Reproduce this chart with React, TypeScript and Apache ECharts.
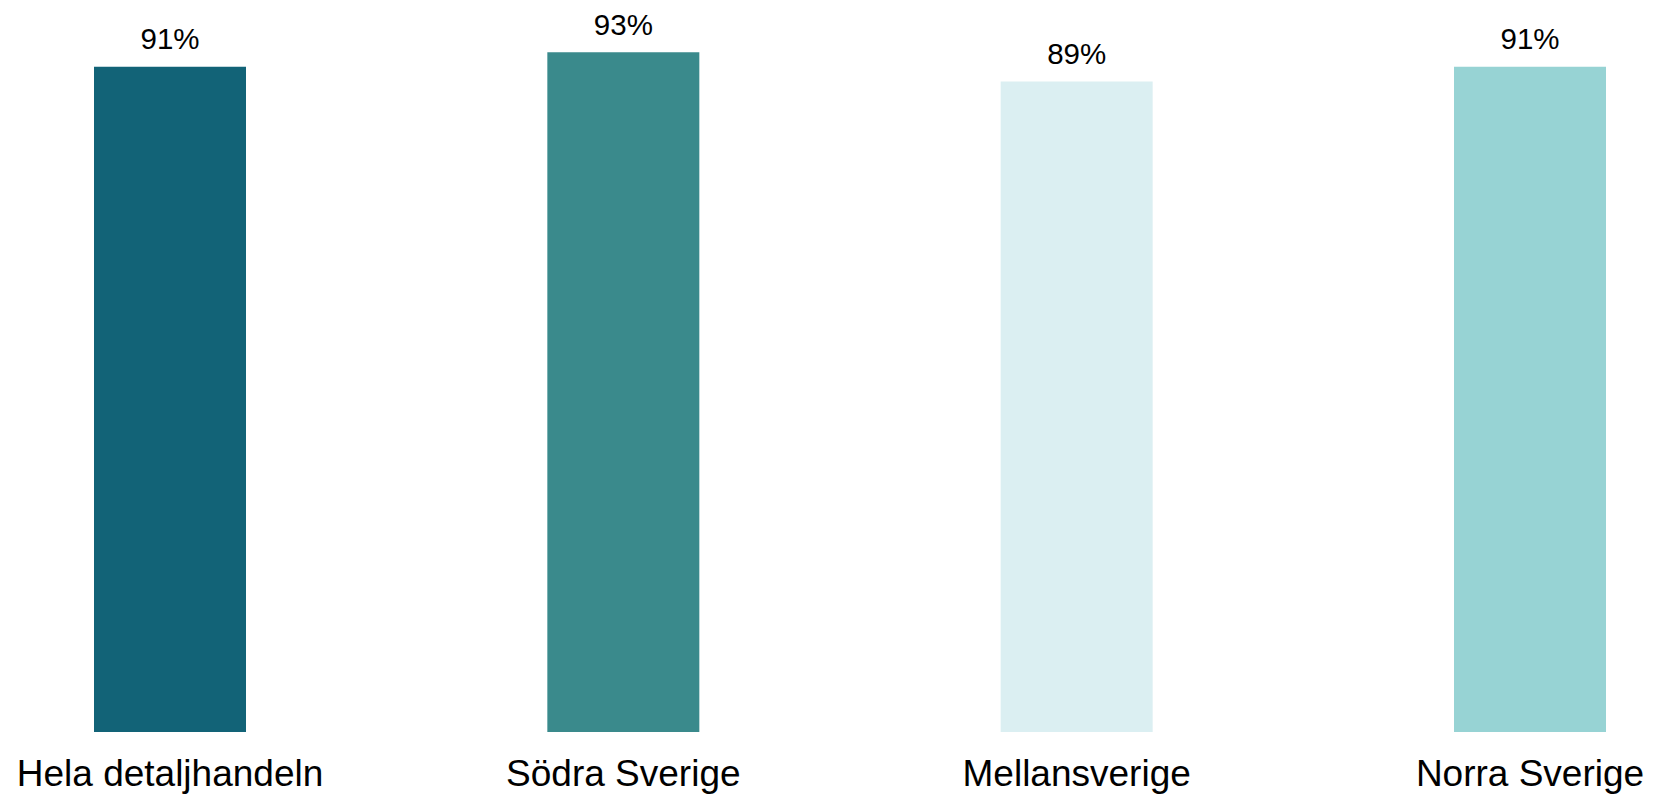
import React, { useEffect, useRef } from "react";
import * as echarts from "echarts";

const categories = ["Hela detaljhandeln", "Södra Sverige", "Mellansverige", "Norra Sverige"];
const values = [91, 93, 89, 91];
const barColors = ["#126377", "#3a8a8c", "#dbeff2", "#97d3d4"];

export default function App() {
  const ref = useRef<HTMLDivElement>(null);
  useEffect(() => {
    document.body.style.margin = "0";
    const chart = echarts.init(ref.current!, null, { renderer: "svg" });
    chart.setOption({
      animation: false,
      backgroundColor: "#ffffff",
      grid: { left: 170, right: 124, top: 1, bottom: 66, containLabel: false },
      xAxis: {
        type: "category",
        data: categories,
        boundaryGap: false,
        axisLine: { show: false },
        axisTick: { show: false },
        splitLine: { show: false },
        axisLabel: {
          margin: 23,
          fontSize: 37,
          color: "#000000",
          fontFamily: "Liberation Sans, Arial, sans-serif",
          interval: 0,
        },
      },
      yAxis: {
        type: "value",
        min: 0,
        max: 100,
        show: false,
        splitLine: { show: false },
      },
      series: [
        {
          type: "bar",
          barWidth: 152,
          data: values.map((v, i) => ({ value: v, itemStyle: { color: barColors[i] } })),
          label: {
            show: true,
            position: "top",
            distance: 13,
            fontSize: 29.5,
            color: "#000000",
            fontFamily: "Liberation Sans, Arial, sans-serif",
            formatter: (p: any) => `${p.value}%`,
          },
        },
      ],
    });
    return () => chart.dispose();
  }, []);
  return <div ref={ref} style={{ width: 1654, height: 798 }} />;
}
